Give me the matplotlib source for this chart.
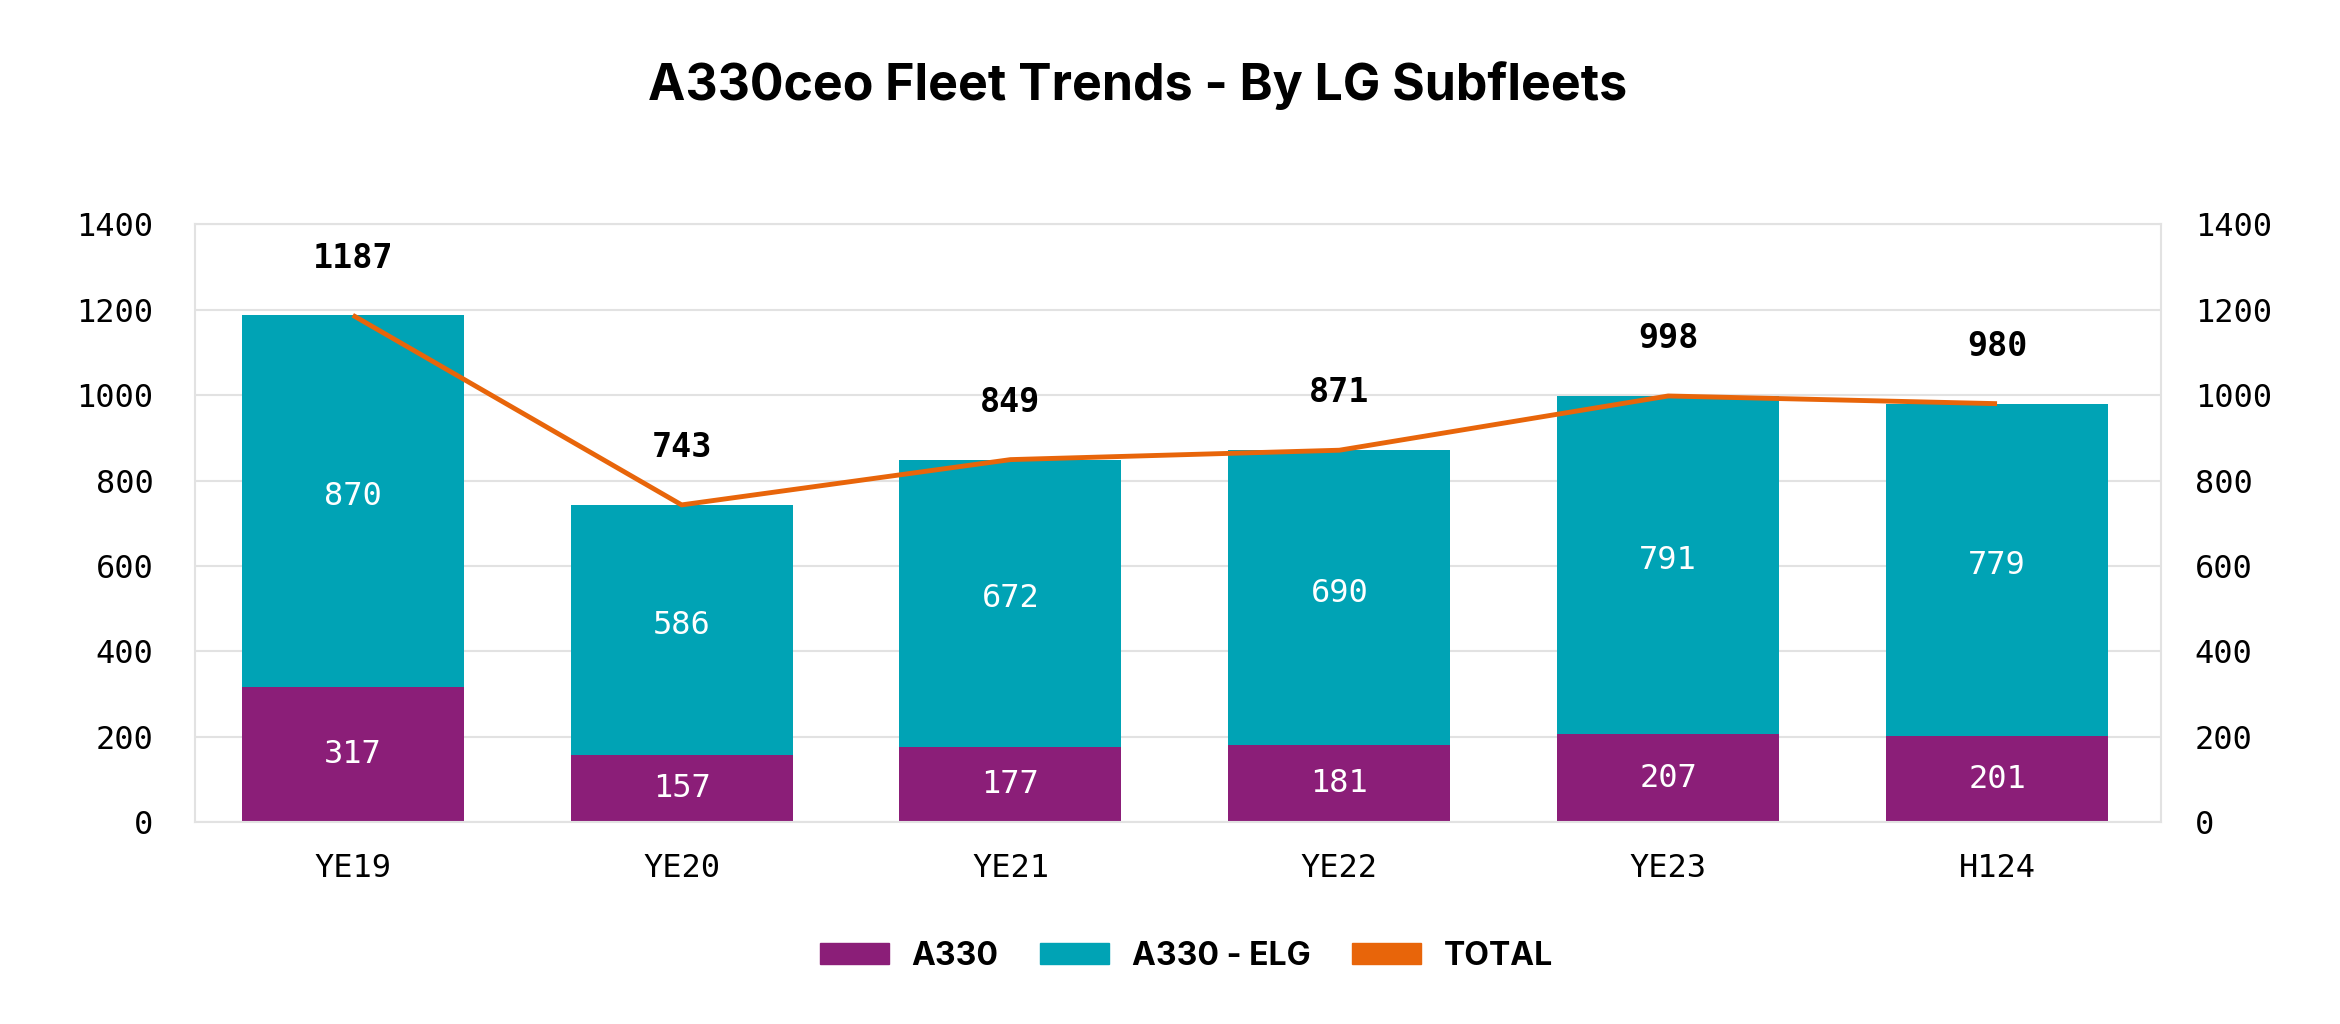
import numpy as np
import matplotlib.pyplot as plt
from matplotlib.patches import Patch

# fleet counts per period
periods = ['YE19', 'YE20', 'YE21', 'YE22', 'YE23', 'H124']
a330 = [317, 157, 177, 181, 207, 201]
a330_elg = [870, 586, 672, 690, 791, 779]
total = [1187, 743, 849, 871, 998, 980]

c_a330 = '#8B1E78'
c_elg = '#00A3B5'
c_total = '#E8650A'
grid_c = '#E2E2E2'

title_font = 'Inter'
mono = 'DejaVu Sans Mono'

fig = plt.figure(figsize=(23.4, 10.24), dpi=100)
ax = fig.add_axes([0.0833, 0.197, 0.8404, 0.584])
x = np.arange(len(periods))
w = 0.675

ax.bar(x, a330, w, color=c_a330, zorder=2)
ax.bar(x, a330_elg, w, bottom=a330, color=c_elg, zorder=2)
ax.plot(x, total, color=c_total, lw=3.5, zorder=3, solid_capstyle='butt')

for i in range(len(x)):
    ax.text(x[i], a330[i] / 2, str(a330[i]), ha='center', va='center',
            color='white', fontsize=23, family=mono, zorder=4)
    ax.text(x[i], a330[i] + a330_elg[i] / 2 + 10, str(a330_elg[i]), ha='center',
            va='center', color='white', fontsize=23, family=mono, zorder=4)
    ax.text(x[i], total[i] + 134, str(total[i]), ha='center', va='center',
            color='black', fontsize=24, family=mono, fontweight='bold', zorder=4)

ax.set_xlim(-0.48, 5.5)
ax.set_ylim(0, 1400)
yt = np.arange(0, 1401, 200)
ax.set_yticks(yt)
ax.set_yticklabels([str(v) for v in yt], family=mono, fontsize=23)
ax.set_xticks(x)
ax.set_xticklabels(periods, family=mono, fontsize=23)
ax.tick_params(axis='y', length=0, pad=30)
ax.tick_params(axis='x', length=0, pad=22)
ax.yaxis.grid(True, color=grid_c, lw=1.5, zorder=0)
ax.set_axisbelow(True)
for s in ax.spines.values():
    s.set_color(grid_c)
    s.set_linewidth(1.5)

ax2 = ax.twinx()
ax2.set_ylim(0, 1400)
ax2.set_yticks(yt)
ax2.set_yticklabels([str(v) for v in yt], family=mono, fontsize=23)
ax2.tick_params(axis='y', length=0, pad=24)
for s in ax2.spines.values():
    s.set_visible(False)

fig.text(0.486, 0.916, 'A330ceo Fleet Trends - By LG Subfleets', ha='center',
         va='center', fontsize=36, fontweight='bold', family=title_font)

handles = [Patch(color=c_a330, label='A330'),
           Patch(color=c_elg, label='A330 - ELG'),
           Patch(color=c_total, label='TOTAL')]
fig.legend(handles=handles, loc='center', bbox_to_anchor=(0.507, 0.066), ncol=3,
           frameon=False, handlelength=2.17, handleheight=0.65, handletextpad=0.7,
           columnspacing=1.3, prop={'family': title_font, 'weight': 'bold', 'size': 23})

fig.savefig('out.png', dpi=100)
